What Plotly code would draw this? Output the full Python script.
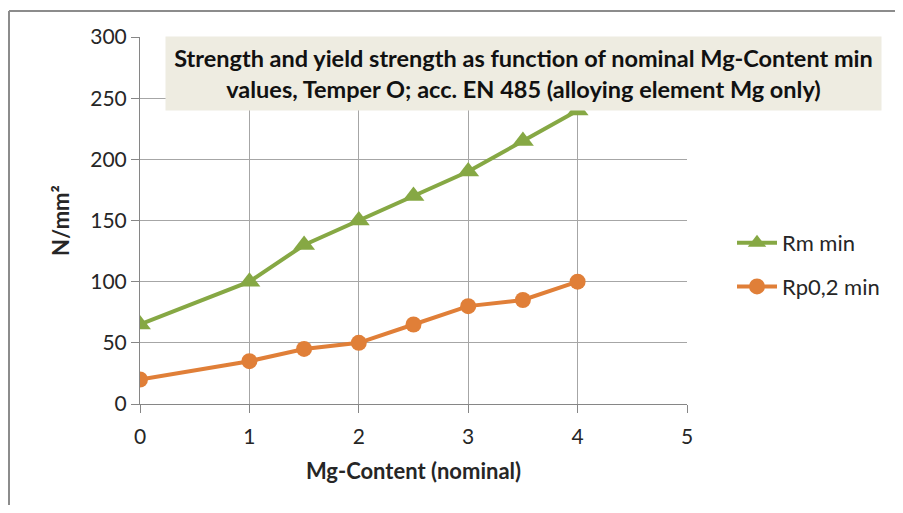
import plotly.graph_objects as go

mg_content = [0, 1, 1.5, 2, 2.5, 3, 3.5, 4]
rm_min = [65, 100, 130, 150, 170, 190, 215, 240]
rp02_min = [20, 35, 45, 50, 65, 80, 85, 100]
x_ticks = [0, 1, 2, 3, 4, 5]
y_ticks = [0, 50, 100, 150, 200, 250, 300]

GREEN = "#86A844"
ORANGE = "#E07F38"
FONT = "Lato, Open Sans, sans-serif"

fig = go.Figure()
fig.add_trace(go.Scatter(
    x=mg_content, y=rm_min, name="Rm min", mode="lines+markers", legendgroup="a",
    line=dict(color=GREEN, width=4),
    marker=dict(symbol="triangle-up", size=19, color=GREEN),
))
fig.add_trace(go.Scatter(
    x=mg_content, y=rp02_min, name="Rp0,2 min", mode="lines+markers", legendgroup="b",
    line=dict(color=ORANGE, width=4),
    marker=dict(symbol="circle", size=16, color=ORANGE),
))

# figure-local pixel geometry (page body has an 8px margin)
L, R, T, B = 132, 679, 29, 396
W, H = 893, 497
pw, ph = R - L, B - T

def px(x):
    return (x - L) / pw

def py(y):
    return (B - y) / ph

fig.update_layout(
    width=W, height=H,
    margin=dict(l=L, r=W - R, t=T, b=H - B, pad=0, autoexpand=False),
    paper_bgcolor="white", plot_bgcolor="white",
    font=dict(family=FONT, size=21, color="#262626"),
    showlegend=True,
    legend=dict(x=px(724), y=py(214), xanchor="left", yanchor="top",
                font=dict(size=22, color="#262626"), tracegroupgap=12,
                traceorder="grouped", itemwidth=40, bgcolor="rgba(0,0,0,0)"),
    xaxis=dict(range=[0, 5], tickvals=x_ticks, showgrid=True, gridcolor="#A6A6A6",
               gridwidth=1, showline=True, linecolor="#868686", linewidth=1,
               ticks="outside", ticklen=8, tickcolor="#868686", zeroline=False,
               ticklabelstandoff=6,
               tickfont=dict(size=21, color="#262626"),
               title=dict(text="<b>Mg-Content (nominal)</b>", font=dict(size=22), standoff=16)),
    yaxis=dict(range=[0, 300], tickvals=y_ticks, showgrid=True, gridcolor="#A6A6A6",
               gridwidth=1, showline=True, linecolor="#868686", linewidth=1,
               ticks="outside", ticklen=8, tickcolor="#868686", zeroline=False,
               tickfont=dict(size=21, color="#262626"),
               title=dict(text="<b>N/mm²</b>", font=dict(size=22), standoff=14)),
)

fig.add_annotation(
    xref="paper", yref="paper", x=px(515), y=py(65.5), xanchor="center", yanchor="middle",
    text="<b>Strength and yield strength as function of nominal Mg-Content min<br>values, Temper O; acc. EN 485 (alloying element Mg only)</b>",
    showarrow=False, bgcolor="#EEECE1", width=713, height=71, borderpad=1,
    font=dict(size=23.5, color="#111111", family=FONT), align="center",
)

# outer chart frame: only top and left edges are visible in the window
fig.add_shape(type="line", xref="paper", yref="paper",
              x0=px(1), y0=py(3), x1=px(960), y1=py(3),
              line=dict(color="#8C8C8C", width=2), layer="below")
fig.add_shape(type="line", xref="paper", yref="paper",
              x0=px(1), y0=py(3), x1=px(1), y1=py(560),
              line=dict(color="#8C8C8C", width=2), layer="below")

fig.write_html("out.html")
